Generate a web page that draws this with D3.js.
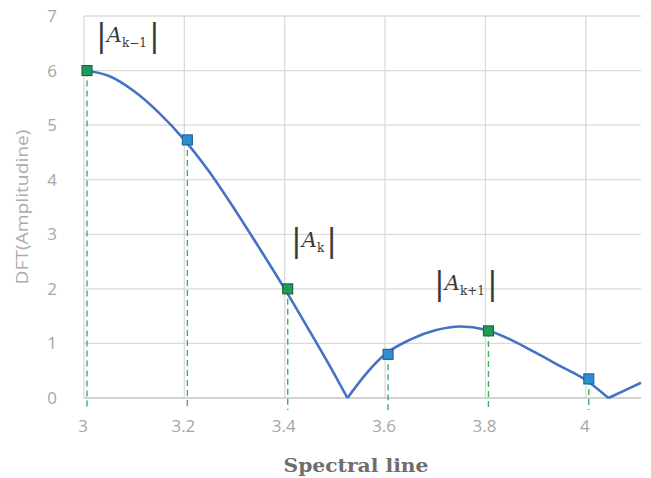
<!DOCTYPE html>
<html>
<head>
<meta charset="utf-8">
<script src="https://cdn.jsdelivr.net/npm/d3@7/dist/d3.min.js"></script>
<style>
  body { margin: 0; background: #fff; }
  svg { display: block; }
</style>
</head>
<body>
<div id="chart"></div>
<script>
// spectral lines (markers)
const lineX = [3.0, 3.2, 3.4, 3.6, 3.8, 4.0];
const lineY = [6.0, 4.73, 2.0, 0.8, 1.23, 0.35];
const lineKind = ["main", "other", "main", "other", "main", "other"];

// curve, split at the zeros
const lobe1 = [[3.0, 6.0], [3.05, 5.9], [3.1, 5.62], [3.15, 5.22], [3.2, 4.73], [3.25, 4.14],
    [3.3, 3.46], [3.35, 2.74], [3.4, 2.0], [3.45, 1.22], [3.5, 0.42], [3.525, 0.0]];
const lobe2 = [[3.525, 0.0], [3.56, 0.42], [3.6, 0.8], [3.65, 1.07], [3.7, 1.24], [3.75, 1.31],
    [3.8, 1.25], [3.85, 1.07], [3.9, 0.83], [3.95, 0.58], [4.0, 0.33], [4.045, 0.0]];
const lobe3 = [[4.045, 0.0], [4.08, 0.15], [4.11, 0.28]];

const xTicks = [3, 3.2, 3.4, 3.6, 3.8, 4];
const yTicks = [0, 1, 2, 3, 4, 5, 6, 7];

const width = 651, height = 478;

const x = d3.scaleLinear().domain([3, 4.11]).range([84, 641]);
const y = d3.scaleLinear().domain([0, 7]).range([398, 16]);

const svg = d3.select("#chart").append("svg")
    .attr("width", width)
    .attr("height", height);

// grid
svg.append("g")
    .selectAll("line")
    .data(yTicks.filter(d => d > 0))
    .enter().append("line")
    .attr("x1", x(3)).attr("x2", x(4.11))
    .attr("y1", d => y(d)).attr("y2", d => y(d))
    .attr("stroke", "#dadada").attr("stroke-width", 1.3);

svg.append("g")
    .selectAll("line")
    .data(xTicks)
    .enter().append("line")
    .attr("x1", d => x(d)).attr("x2", d => x(d))
    .attr("y1", y(7)).attr("y2", y(0))
    .attr("stroke", "#dadada").attr("stroke-width", 1.3);

// x axis baseline
svg.append("line")
    .attr("x1", x(3)).attr("x2", x(4.11))
    .attr("y1", y(0)).attr("y2", y(0))
    .attr("stroke", "#c4c4c4").attr("stroke-width", 1.5);

// tick labels
svg.append("g")
    .selectAll("text")
    .data(yTicks)
    .enter().append("text")
    .attr("x", 57).attr("y", d => y(d) + 6)
    .attr("text-anchor", "end")
    .attr("font-family", "Open Sans, sans-serif")
    .attr("font-size", 17)
    .attr("fill", "#a6a6a6")
    .text(d => d);

svg.append("g")
    .selectAll("text")
    .data(xTicks)
    .enter().append("text")
    .attr("x", d => x(d) - 1)
    .attr("y", 432)
    .attr("text-anchor", "middle")
    .attr("font-family", "Open Sans, sans-serif")
    .attr("font-size", 17)
    .attr("fill", "#a6a6a6")
    .text(d => d);

// axis titles
svg.append("text")
    .attr("x", 356).attr("y", 472)
    .attr("text-anchor", "middle")
    .attr("font-family", "DejaVu Serif, serif")
    .attr("font-weight", "bold")
    .attr("font-size", 18)
    .attr("textLength", 145)
    .attr("lengthAdjust", "spacingAndGlyphs")
    .attr("fill", "#6e6e6e")
    .text("Spectral line");

svg.append("text")
    .attr("transform", "translate(28,207) rotate(-90)")
    .attr("text-anchor", "middle")
    .attr("font-family", "Open Sans, sans-serif")
    .attr("font-size", 16)
    .attr("textLength", 155)
    .attr("lengthAdjust", "spacingAndGlyphs")
    .attr("fill", "#acacac")
    .text("DFT(Amplitudine)");

// dashed spectral lines
svg.append("g")
    .selectAll("line")
    .data(lineX)
    .enter().append("line")
    .attr("x1", d => x(d) + 3).attr("x2", d => x(d) + 3)
    .attr("y1", (d, i) => y(lineY[i]))
    .attr("y2", y(0) + 12)
    .attr("stroke", "#3fae66")
    .attr("stroke-width", 1.4)
    .attr("stroke-dasharray", "6,4");

// curve
const line = d3.line()
    .x(d => x(d[0]))
    .y(d => y(d[1]))
    .curve(d3.curveMonotoneX);

[lobe1, lobe2, lobe3].forEach(seg => {
    svg.append("path")
        .datum(seg)
        .attr("d", line)
        .attr("fill", "none")
        .attr("stroke", "#4472c4")
        .attr("stroke-width", 2.6);
});

// markers
svg.append("g")
    .selectAll("rect")
    .data(lineX)
    .enter().append("rect")
    .attr("x", d => x(d) + 3 - 5)
    .attr("y", (d, i) => y(lineY[i]) - 5)
    .attr("width", 10).attr("height", 10)
    .attr("fill", (d, i) => lineKind[i] === "main" ? "#1f9a58" : "#2d8fd2")
    .attr("stroke", (d, i) => lineKind[i] === "main" ? "#17643c" : "#1f5f96")
    .attr("stroke-width", 1.1);

// |A_k| labels
const labels = [
    { px: 96, py: 46, sub: "k\u22121" },
    { px: 291, py: 251, sub: "k" },
    { px: 434, py: 294, sub: "k+1" }
];

labels.forEach(l => {
    const t = svg.append("text")
        .attr("x", l.px).attr("y", l.py)
        .attr("font-family", "DejaVu Serif, serif")
        .attr("fill", "#3a3a3a");
    t.append("tspan").attr("font-size", 32).text("|");
    t.append("tspan").attr("font-size", 21).attr("font-style", "italic").attr("dy", -4).text("A");
    t.append("tspan").attr("font-size", 12).attr("dy", 5).text(l.sub);
    t.append("tspan").attr("font-size", 32).attr("dx", 2).attr("dy", -1).text("|");
});
</script>
</body>
</html>
